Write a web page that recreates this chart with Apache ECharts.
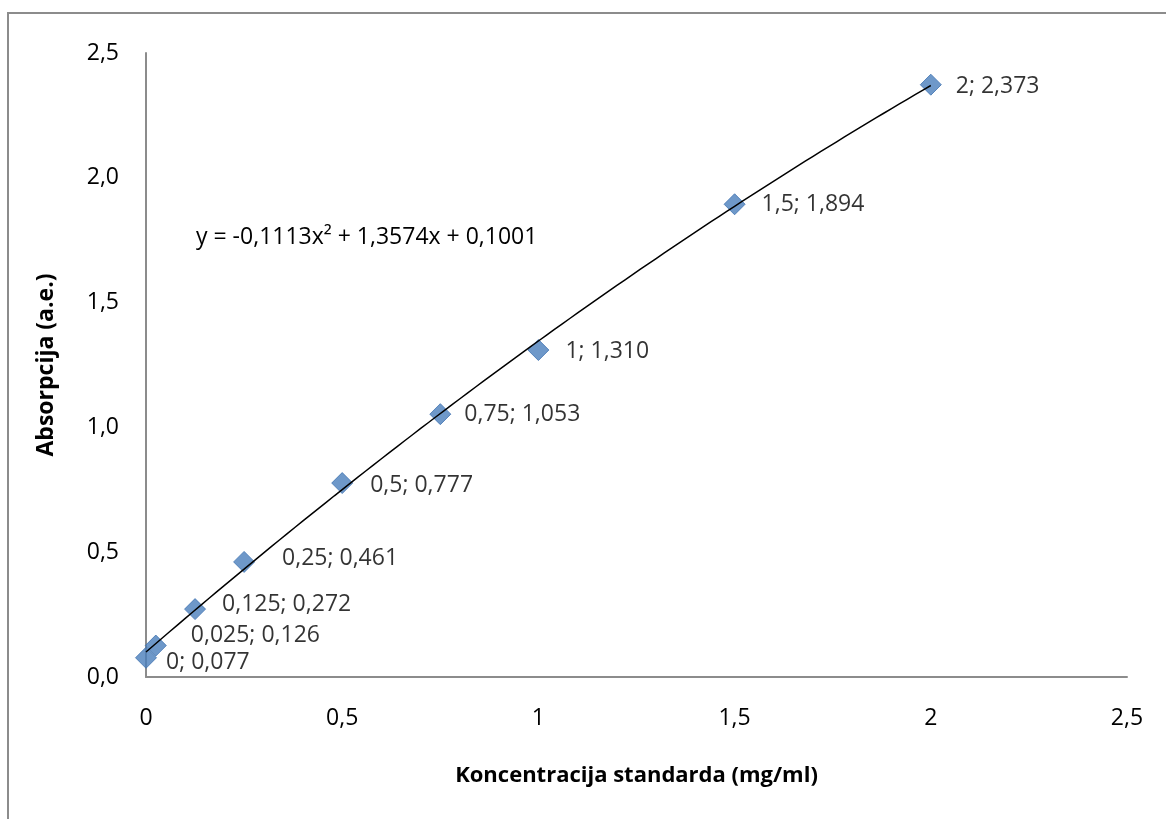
<!DOCTYPE html>
<html><head><meta charset="utf-8">
<script src="https://cdn.jsdelivr.net/npm/echarts@6/dist/echarts.min.js"></script>
<style>html,body{margin:0;padding:0;background:#fff}#c{width:1166px;height:819px}
#frame{position:absolute;left:7px;top:12px;width:1180px;height:830px;border:2px solid #8c8c8c;box-sizing:border-box;pointer-events:none}</style>
</head><body><div id="c"></div><div id="frame"></div>
<script>
const xValues = [0, 0.025, 0.125, 0.25, 0.5, 0.75, 1, 1.5, 2];
const yValues = [0.077, 0.126, 0.272, 0.461, 0.777, 1.053, 1.310, 1.894, 2.373];
const trendCoeffs = [-0.1113, 1.3574, 0.1001]; // a, b, c
const xTicks = [0, 0.5, 1, 1.5, 2, 2.5];
const yTicks = [0, 0.5, 1, 1.5, 2, 2.5];
const equationText = 'y = -0,1113x² + 1,3574x + 0,1001';

const labelOffsets = [[9,5],[24,-10],[16,-5],[27,-3],[17,2],[13,0],[16,1],[16,0],[14,2]];
const comma = v => String(v).replace('.', ',');
const fmt3 = v => v.toFixed(3).replace('.', ',');
const font = 'Open Sans';

const scatterData = xValues.map((x, i) => ({
  value: [x, yValues[i]],
  label: { offset: labelOffsets[i] }
}));
const trend = [];
for (let k = 0; k <= 100; k++) {
  const x = 2 * k / 100;
  trend.push([x, trendCoeffs[0]*x*x + trendCoeffs[1]*x + trendCoeffs[2]]);
}

const chart = echarts.init(document.getElementById('c'));
chart.setOption({
  animation: false,
  grid: { left: 146, right: 39, top: 53, bottom: 142 },
  xAxis: {
    type: 'value', min: 0, max: 2.5, interval: 0.5,
    name: 'Koncentracija standarda (mg/ml)', nameLocation: 'middle', nameGap: 88,
    nameTextStyle: { fontFamily: font, fontSize: 22, fontWeight: 'bold', color: '#000' },
    axisLine: { lineStyle: { color: '#8c8c8c', width: 2 } },
    axisTick: { show: false }, splitLine: { show: false },
    axisLabel: { margin: 30, fontFamily: font, fontSize: 23, color: '#000', formatter: v => comma(v) }
  },
  yAxis: {
    type: 'value', min: 0, max: 2.5, interval: 0.5,
    name: 'Absorpcija (a.e.)', nameLocation: 'middle', nameGap: 88, nameRotate: 90,
    nameTextStyle: { fontFamily: font, fontSize: 23, fontWeight: 'bold', color: '#000' },
    axisLine: { show: true, lineStyle: { color: '#8c8c8c', width: 2 } },
    axisTick: { show: false }, splitLine: { show: false },
    axisLabel: { margin: 27, fontFamily: font, fontSize: 23, color: '#000', formatter: v => v.toFixed(1).replace('.', ',') }
  },
  series: [
    {
      type: 'scatter', data: scatterData, symbol: 'diamond', symbolSize: 21,
      itemStyle: { color: '#4a7ebb', borderColor: '#3f72b0', borderWidth: 1 },
      z: 2,
      label: {
        show: true, position: 'right', distance: 0, fontFamily: font, fontSize: 23, color: '#000',
        formatter: p => comma(p.value[0]) + '; ' + fmt3(p.value[1])
      }
    },
    {
      type: 'line', data: trend, showSymbol: false, symbol: 'none', smooth: false,
      lineStyle: { color: '#000', width: 1.5 }, z: 3, silent: true
    }
  ],
  graphic: [{
    type: 'text', left: 196, top: 226,
    style: { text: equationText, fontFamily: font, fontSize: 23, fill: '#000' }
  }]
});
</script></body></html>
